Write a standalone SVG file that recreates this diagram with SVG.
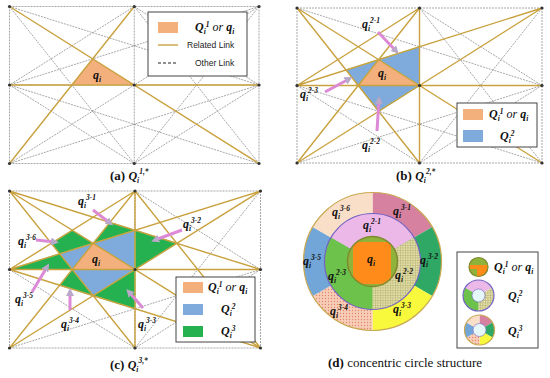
<svg xmlns="http://www.w3.org/2000/svg" width="550" height="378" viewBox="0 0 550 378">
<style>
.g{stroke:#6b6b6b;stroke-width:.6;stroke-dasharray:2 1;fill:none}
.au{stroke:#C9A23F;stroke-width:1.4;fill:none}
.o{fill:#F4B07C}
.b{fill:#7EABDC;stroke:#7CD060;stroke-width:.8}
.gr{fill:#25B14F;stroke:#6ADB6A;stroke-width:.8}
.lbl{font-family:"Liberation Serif",serif;font-weight:bold;font-style:italic;font-size:12px;fill:#111}
.s{font-size:7.5px}
.lg{font-family:"Liberation Sans",sans-serif;font-size:8.5px;fill:#222}
.cap{font-family:"Liberation Serif",serif;font-size:13px;fill:#111}
.box{fill:#fff;stroke:#444;stroke-width:1}
.ar{stroke:#DD8AD6;stroke-width:3;fill:none;marker-end:url(#ah)}
.nd{fill:#333}
</style>
<defs>
<marker id="ah" markerUnits="userSpaceOnUse" markerWidth="8" markerHeight="8" refX="4" refY="4" orient="auto"><path d="M0,0 L8,4 L0,8 Z" fill="#B9A8C8"/></marker>
<pattern id="hatch" width="2.5" height="2.5" patternUnits="userSpaceOnUse"><rect width="2.5" height="2.5" fill="#E2DDA6"/><path d="M0 0H2.5M0 0V2.5" stroke="#9C9C58" stroke-width=".6"/></pattern>
<pattern id="dots" width="3" height="3" patternUnits="userSpaceOnUse"><rect width="3" height="3" fill="#F7CDB8"/><circle cx="1.5" cy="1.5" r=".65" fill="#E0876A"/></pattern>
<clipPath id="ic"><circle cx="372.5" cy="261.5" r="25"/></clipPath>
<clipPath id="ic2"><circle cx="478.5" cy="267" r="9.5"/></clipPath>
</defs>

<!-- Panel a -->
<g id="panel-a">
<g id="links-a">
<path class="g" d="M9.5,6.5H259M9.5,85H259M9.5,163.5H259M9.5,6.5V163.5M134.25,6.5V163.5M259,6.5V163.5"/>
<path class="g" d="M259,6.5L9.5,163.5M134.25,6.5L9.5,85M134.25,6.5L259,85M9.5,85L134.25,163.5M259,85L134.25,163.5"/>
<path class="g" d="M9.5,6.5L259,85M9.5,6.5L134.25,163.5M259,6.5L9.5,85M259,6.5L134.25,163.5M9.5,163.5L259,85M259,163.5L134.25,6.5M259,163.5L9.5,85"/>
</g>
<g id="qi-a"><polygon class="o" points="134.25,85 71.9,85 92.67,58.83"/>
<text class="lbl" x="93" y="79">q<tspan class="s" baseline-shift="-3">i</tspan></text></g>
<g id="gold-a"><path class="au" d="M9.5,6.5L259,163.5M9.5,163.5L134.25,6.5M9.5,85H259"/></g>
<g id="nodes-a" class="nd"><circle cx="9.5" cy="6.5" r="1.6"/><circle cx="134.25" cy="6.5" r="1.6"/><circle cx="259" cy="6.5" r="1.6"/><circle cx="9.5" cy="85" r="1.6"/><circle cx="134.25" cy="85" r="1.6"/><circle cx="259" cy="85" r="1.6"/><circle cx="9.5" cy="163.5" r="1.6"/><circle cx="134.25" cy="163.5" r="1.6"/><circle cx="259" cy="163.5" r="1.6"/></g>
<g id="legend-a">
<rect class="box" x="148" y="12" width="99" height="64"/>
<rect class="o" x="158" y="22" width="20" height="11"/>
<text class="lbl" x="195" y="31" font-size="10">Q<tspan class="s" baseline-shift="-3">i</tspan><tspan class="s" baseline-shift="4">1</tspan> <tspan font-weight="normal">or</tspan> q<tspan class="s" baseline-shift="-3">i</tspan></text>
<line class="au" x1="158" y1="45" x2="178" y2="45"/>
<text class="lg" x="187" y="48">Related Link</text>
<line x1="158" y1="63" x2="178" y2="63" stroke="#222" stroke-width="1.2" stroke-dasharray="3 2"/>
<text class="lg" x="195" y="66">Other Link</text>
</g>
<text class="cap" x="110" y="180"><tspan font-weight="bold">(a)</tspan>  <tspan class="lbl" font-size="13">Q</tspan><tspan class="lbl s" font-size="8" baseline-shift="-3">i</tspan><tspan class="lbl s" font-size="8" baseline-shift="6">1,*</tspan></text>
</g>

<!-- Panel b -->
<g id="panel-b">
<g id="links-b">
<path class="g" d="M297,8H542M297,85.5H542M297,163H542M297,8V163M419.5,8V163M542,8V163"/>
<path class="g" d="M419.5,8L542,85.5M297,85.5L419.5,163M542,85.5L419.5,163"/>
<path class="g" d="M297,8L542,85.5M542,8L419.5,163M297,163L542,85.5M542,163L419.5,8M542,163L297,85.5"/>
</g>
<g id="regions-b">
<polygon class="b" points="378.67,59.67 419.5,85.5 419.5,46.75"/>
<polygon class="b" points="358.25,85.5 419.5,85.5 378.67,111.33"/>
<polygon class="b" points="358.25,85.5 378.67,59.67 346,70"/>
<polygon class="o" points="419.5,85.5 358.25,85.5 378.67,59.67"/>
</g>
<g id="gold-b"><path class="au" d="M297,8L542,163M297,163L419.5,8M297,85.5H542M542,8L297,85.5M419.5,8V163M297,8L419.5,163M542,8L297,163M419.5,8L297,85.5"/></g>
<g id="nodes-b" class="nd"><circle cx="297" cy="8" r="1.6"/><circle cx="419.5" cy="8" r="1.6"/><circle cx="542" cy="8" r="1.6"/><circle cx="297" cy="85.5" r="1.6"/><circle cx="419.5" cy="85.5" r="1.6"/><circle cx="542" cy="85.5" r="1.6"/><circle cx="297" cy="163" r="1.6"/><circle cx="419.5" cy="163" r="1.6"/><circle cx="542" cy="163" r="1.6"/></g>
<g id="labels-b">
<text class="lbl" x="378" y="77">q<tspan class="s" baseline-shift="-3">i</tspan></text>
<text class="lbl" x="362" y="28">q<tspan class="s" baseline-shift="-3">i</tspan><tspan class="s" baseline-shift="5">2-1</tspan></text>
<text class="lbl" x="300" y="98">q<tspan class="s" baseline-shift="-3">i</tspan><tspan class="s" baseline-shift="5">2-3</tspan></text>
<text class="lbl" x="362" y="149">q<tspan class="s" baseline-shift="-3">i</tspan><tspan class="s" baseline-shift="5">2-2</tspan></text>
<line class="ar" x1="378" y1="32" x2="396" y2="51"/>
<line class="ar" x1="325" y1="92" x2="349" y2="79"/>
<line class="ar" x1="377" y1="131" x2="379" y2="100"/>
</g>
<g id="legend-b">
<rect class="box" x="457" y="103" width="80" height="44"/>
<rect class="o" x="463" y="109" width="20" height="11"/>
<text class="lbl" x="489" y="118" font-size="10">Q<tspan class="s" baseline-shift="-3">i</tspan><tspan class="s" baseline-shift="4">1</tspan> <tspan font-weight="normal">or</tspan> q<tspan class="s" baseline-shift="-3">i</tspan></text>
<rect x="463" y="130" width="20" height="12" fill="#7EABDC"/>
<text class="lbl" x="500" y="140" font-size="10">Q<tspan class="s" baseline-shift="-3">i</tspan><tspan class="s" baseline-shift="4">2</tspan></text>
</g>
<text class="cap" x="396" y="180"><tspan font-weight="bold">(b)</tspan>  <tspan class="lbl" font-size="13">Q</tspan><tspan class="lbl s" font-size="8" baseline-shift="-3">i</tspan><tspan class="lbl s" font-size="8" baseline-shift="6">2,*</tspan></text>
</g>

<!-- Panel c -->
<g id="panel-c">
<g id="links-c">
<path class="g" d="M9.5,191H260.5M9.5,269.5H260.5M9.5,348H260.5M9.5,191V348M135,191V348M260.5,191V348"/>
<path class="g" d="M135,191L260.5,269.5M9.5,269.5L135,348M260.5,269.5L135,348"/>
<path class="g" d="M260.5,191L135,348M9.5,348L260.5,269.5"/>
</g>
<g id="regions-c">
<polygon class="gr" points="93.17,243.33 135,230.25 109.9,222.4"/>
<polygon class="gr" points="135,230.25 135,269.5 176.83,243.33"/>
<polygon class="gr" points="135,269.5 93.17,295.67 135,308.75"/>
<polygon class="gr" points="72.25,269.5 93.17,295.67 59.7,285.2"/>
<polygon class="gr" points="9.5,269.5 59.7,253.8 72.25,269.5"/>
<polygon class="gr" points="59.7,253.8 93.17,243.33 72.25,230.25 51.33,243.33"/>
<polygon class="b" points="93.17,243.33 135,269.5 135,230.25"/>
<polygon class="b" points="72.25,269.5 135,269.5 93.17,295.67"/>
<polygon class="b" points="72.25,269.5 93.17,243.33 59.7,253.8"/>
<polygon class="o" points="135,269.5 72.25,269.5 93.17,243.33"/>
</g>
<g id="gold-c"><path class="au" d="M9.5,191L260.5,348M9.5,348L135,191M9.5,269.5H260.5M260.5,191L9.5,269.5M135,191V348M9.5,191L135,348M260.5,191L9.5,348M9.5,191L260.5,269.5M135,191L260.5,348M9.5,269.5L260.5,348M135,191L9.5,269.5"/></g>
<g id="nodes-c" class="nd"><circle cx="9.5" cy="191" r="1.6"/><circle cx="135" cy="191" r="1.6"/><circle cx="260.5" cy="191" r="1.6"/><circle cx="9.5" cy="269.5" r="1.6"/><circle cx="135" cy="269.5" r="1.6"/><circle cx="260.5" cy="269.5" r="1.6"/><circle cx="9.5" cy="348" r="1.6"/><circle cx="135" cy="348" r="1.6"/><circle cx="260.5" cy="348" r="1.6"/></g>
<g id="labels-c">
<text class="lbl" x="92" y="263">q<tspan class="s" baseline-shift="-3">i</tspan></text>
<text class="lbl" x="78" y="205">q<tspan class="s" baseline-shift="-3">i</tspan><tspan class="s" baseline-shift="5">3-1</tspan></text>
<text class="lbl" x="183" y="228">q<tspan class="s" baseline-shift="-3">i</tspan><tspan class="s" baseline-shift="5">3-2</tspan></text>
<text class="lbl" x="18" y="245">q<tspan class="s" baseline-shift="-3">i</tspan><tspan class="s" baseline-shift="5">3-6</tspan></text>
<text class="lbl" x="15" y="303">q<tspan class="s" baseline-shift="-3">i</tspan><tspan class="s" baseline-shift="5">3-5</tspan></text>
<text class="lbl" x="61" y="328">q<tspan class="s" baseline-shift="-3">i</tspan><tspan class="s" baseline-shift="5">3-4</tspan></text>
<text class="lbl" x="138" y="328">q<tspan class="s" baseline-shift="-3">i</tspan><tspan class="s" baseline-shift="5">3-3</tspan></text>
<line class="ar" x1="93" y1="210" x2="110" y2="223"/>
<line class="ar" x1="182" y1="230" x2="155" y2="240"/>
<line class="ar" x1="36" y1="240" x2="55" y2="242"/>
<line class="ar" x1="32" y1="292" x2="47" y2="267"/>
<line class="ar" x1="70" y1="310" x2="70" y2="292"/>
<line class="ar" x1="143" y1="308" x2="129" y2="292"/>
</g>
<g id="legend-c">
<rect class="box" x="176" y="277" width="79" height="65"/>
<rect class="o" x="183" y="282" width="20" height="11"/>
<text class="lbl" x="208" y="291" font-size="10">Q<tspan class="s" baseline-shift="-3">i</tspan><tspan class="s" baseline-shift="4">1</tspan> <tspan font-weight="normal">or</tspan> q<tspan class="s" baseline-shift="-3">i</tspan></text>
<rect x="183" y="304" width="20" height="11" fill="#7EABDC"/>
<text class="lbl" x="221" y="313" font-size="10">Q<tspan class="s" baseline-shift="-3">i</tspan><tspan class="s" baseline-shift="4">2</tspan></text>
<rect x="183" y="326" width="20" height="11" fill="#25B14F"/>
<text class="lbl" x="221" y="335" font-size="10">Q<tspan class="s" baseline-shift="-3">i</tspan><tspan class="s" baseline-shift="4">3</tspan></text>
</g>
<text class="cap" x="110" y="369"><tspan font-weight="bold">(c)</tspan>  <tspan class="lbl" font-size="13">Q</tspan><tspan class="lbl s" font-size="8" baseline-shift="-3">i</tspan><tspan class="lbl s" font-size="8" baseline-shift="6">3,*</tspan></text>
</g>

<!-- Panel d -->
<g id="panel-d">
<g id="outer-ring">
<path d="M372.5,261.5L372.5,192.5A69,69 0 0 1 432.26,227Z" fill="#D6819F"/>
<path d="M372.5,261.5L432.26,227A69,69 0 0 1 432.26,296Z" fill="#2FA866"/>
<path d="M372.5,261.5L432.26,296A69,69 0 0 1 372.5,330.5Z" fill="#F8F83C"/>
<path d="M372.5,261.5L372.5,330.5A69,69 0 0 1 312.74,296Z" fill="url(#dots)"/>
<path d="M372.5,261.5L312.74,296A69,69 0 0 1 312.74,227Z" fill="#72A6D8"/>
<path d="M372.5,261.5L312.74,227A69,69 0 0 1 372.5,192.5Z" fill="#FADFC8"/>
<circle cx="372.5" cy="261.5" r="69" fill="none" stroke="#C8A850" stroke-width="1.2"/>
</g>
<g id="middle-ring">
<path d="M372.5,261.5L330.93,237.5A48,48 0 0 1 414.07,237.5Z" fill="#EBB8E8"/>
<path d="M372.5,261.5L414.07,237.5A48,48 0 0 1 372.5,309.5Z" fill="url(#hatch)"/>
<path d="M372.5,261.5L372.5,309.5A48,48 0 0 1 330.93,237.5Z" fill="#6CC24A"/>
<circle cx="372.5" cy="261.5" r="48" fill="none" stroke="#7464C4" stroke-width="1.2"/>
</g>
<g id="inner-circle">
<circle cx="372.5" cy="261.5" r="25" fill="#8FB33A"/>
<rect x="353" y="242" width="38" height="42" fill="#FF8C1A" clip-path="url(#ic)"/>
<circle cx="372.5" cy="261.5" r="25" fill="none" stroke="#7F8A2E" stroke-width="1.5"/>
</g>
<g id="labels-d">
<text class="lbl" x="367" y="263">q<tspan class="s" baseline-shift="-3">i</tspan></text>
<text class="lbl" x="363" y="229">q<tspan class="s" baseline-shift="-3">i</tspan><tspan class="s" baseline-shift="5">2-1</tspan></text>
<text class="lbl" x="395" y="279">q<tspan class="s" baseline-shift="-3">i</tspan><tspan class="s" baseline-shift="5">2-2</tspan></text>
<text class="lbl" x="328" y="280">q<tspan class="s" baseline-shift="-3">i</tspan><tspan class="s" baseline-shift="5">2-3</tspan></text>
<text class="lbl" x="393" y="215">q<tspan class="s" baseline-shift="-3">i</tspan><tspan class="s" baseline-shift="5">3-1</tspan></text>
<text class="lbl" x="420" y="264">q<tspan class="s" baseline-shift="-3">i</tspan><tspan class="s" baseline-shift="5">3-2</tspan></text>
<text class="lbl" x="393" y="313">q<tspan class="s" baseline-shift="-3">i</tspan><tspan class="s" baseline-shift="5">3-3</tspan></text>
<text class="lbl" x="330" y="315">q<tspan class="s" baseline-shift="-3">i</tspan><tspan class="s" baseline-shift="5">3-4</tspan></text>
<text class="lbl" x="303" y="265">q<tspan class="s" baseline-shift="-3">i</tspan><tspan class="s" baseline-shift="5">3-5</tspan></text>
<text class="lbl" x="332" y="216">q<tspan class="s" baseline-shift="-3">i</tspan><tspan class="s" baseline-shift="5">3-6</tspan></text>
</g>
<g id="legend-d">
<rect class="box" x="457" y="252" width="81" height="96"/>
<circle cx="478.5" cy="267" r="9.5" fill="#8FB33A"/>
<rect x="477" y="265" width="12" height="12" fill="#FF8C1A" clip-path="url(#ic2)"/>
<rect x="468" y="265" width="10" height="4" fill="#FF8C1A" clip-path="url(#ic2)"/>
<circle cx="478.5" cy="267" r="9.5" fill="none" stroke="#7F8A2E" stroke-width="1.2"/>
<text class="lbl" x="494" y="271" font-size="10">Q<tspan class="s" baseline-shift="-3">i</tspan><tspan class="s" baseline-shift="4">1</tspan> <tspan font-weight="normal">or</tspan> q<tspan class="s" baseline-shift="-3">i</tspan></text>
<path d="M478.5,295.5L465.08,287.75A15.5,15.5 0 0 1 491.92,287.75Z" fill="#EBB8E8"/>
<path d="M478.5,295.5L491.92,287.75A15.5,15.5 0 0 1 478.5,311Z" fill="url(#hatch)"/>
<path d="M478.5,295.5L478.5,311A15.5,15.5 0 0 1 465.08,287.75Z" fill="#6CC24A"/>
<circle cx="478.5" cy="295.5" r="15.5" fill="none" stroke="#7464C4" stroke-width="1.2"/>
<circle cx="478.5" cy="295.5" r="6.5" fill="#E6F7FA" stroke="#7464C4" stroke-width=".6"/>
<text class="lbl" x="508" y="300" font-size="10">Q<tspan class="s" baseline-shift="-3">i</tspan><tspan class="s" baseline-shift="4">2</tspan></text>
<path d="M479.5,330L479.5,315A15,15 0 0 1 492.49,322.5Z" fill="#D6819F"/>
<path d="M479.5,330L492.49,322.5A15,15 0 0 1 492.49,337.5Z" fill="#2FA866"/>
<path d="M479.5,330L492.49,337.5A15,15 0 0 1 479.5,345Z" fill="#F8F83C"/>
<path d="M479.5,330L479.5,345A15,15 0 0 1 466.51,337.5Z" fill="url(#dots)"/>
<path d="M479.5,330L466.51,337.5A15,15 0 0 1 466.51,322.5Z" fill="#72A6D8"/>
<path d="M479.5,330L466.51,322.5A15,15 0 0 1 479.5,315Z" fill="#FADFC8"/>
<circle cx="479.5" cy="330" r="15" fill="none" stroke="#C8A850" stroke-width="1.2"/>
<circle cx="479.5" cy="330" r="6.5" fill="#E6F7FA" stroke="#7464C4" stroke-width=".6"/>
<text class="lbl" x="508" y="335" font-size="10">Q<tspan class="s" baseline-shift="-3">i</tspan><tspan class="s" baseline-shift="4">3</tspan></text>
</g>
<text class="cap" x="328" y="367"><tspan font-weight="bold">(d)</tspan> concentric circle structure</text>
</g>
</svg>
